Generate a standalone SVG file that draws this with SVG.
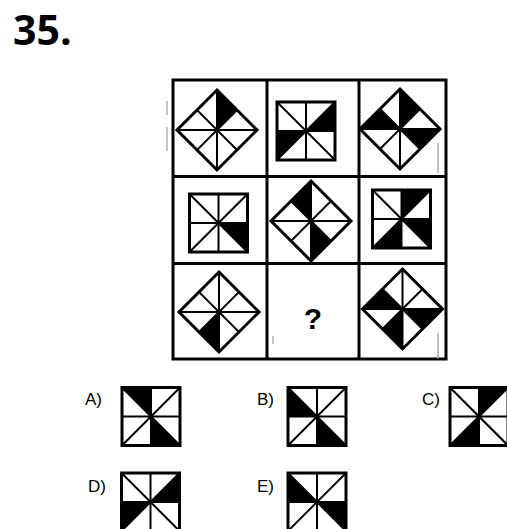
<svg xmlns="http://www.w3.org/2000/svg" xmlns:xlink="http://www.w3.org/1999/xlink" width="507" height="529" viewBox="0 0 507 529">
<defs>
<style>
.grid{fill:none;stroke:#000;stroke-width:3}
.o{fill:none;stroke:#000;stroke-width:3;stroke-linejoin:miter}
.i{stroke:#000;stroke-width:2;fill:none}
.f{fill:#000}
.lbl{font-family:"Liberation Sans",Arial,sans-serif;font-size:17px;fill:#000}
.scan{stroke:#9a9a9a;stroke-width:1.2}
</style>
<g id="sq">
 <line class="i" x1="0" y1="-29" x2="0" y2="29"/>
 <line class="i" x1="-29" y1="0" x2="29" y2="0"/>
 <line class="i" x1="-29" y1="-29" x2="29" y2="29"/>
 <line class="i" x1="29" y1="-29" x2="-29" y2="29"/>
 <rect class="o" x="-29" y="-29" width="58" height="58"/>
</g>
<g id="dm">
 <line class="i" x1="0" y1="-40" x2="0" y2="40"/>
 <line class="i" x1="-40" y1="0" x2="40" y2="0"/>
 <line class="i" x1="-20" y1="-20" x2="20" y2="20"/>
 <line class="i" x1="20" y1="-20" x2="-20" y2="20"/>
 <polygon class="o" points="0,-40 40,0 0,40 -40,0"/>
</g>
<path id="s0" d="M0 0L0 -29L29 -29Z"/>
<path id="s1" d="M0 0L29 -29L29 0Z"/>
<path id="s2" d="M0 0L29 0L29 29Z"/>
<path id="s3" d="M0 0L29 29L0 29Z"/>
<path id="s4" d="M0 0L0 29L-29 29Z"/>
<path id="s5" d="M0 0L-29 29L-29 0Z"/>
<path id="s6" d="M0 0L-29 0L-29 -29Z"/>
<path id="s7" d="M0 0L-29 -29L0 -29Z"/>
<path id="d0" d="M0 0L0 -40L20 -20Z"/>
<path id="d1" d="M0 0L20 -20L40 0Z"/>
<path id="d2" d="M0 0L40 0L20 20Z"/>
<path id="d3" d="M0 0L20 20L0 40Z"/>
<path id="d4" d="M0 0L0 40L-20 20Z"/>
<path id="d5" d="M0 0L-20 20L-40 0Z"/>
<path id="d6" d="M0 0L-40 0L-20 -20Z"/>
<path id="d7" d="M0 0L-20 -20L0 -40Z"/>
</defs>
<rect width="507" height="529" fill="#fff"/>
<text id="title" x="13" y="45" font-family="'Open Sans','Noto Sans',sans-serif" font-weight="bold" font-size="41">35.</text>

<g id="grid">
 <rect class="grid" x="173" y="80" width="273" height="279"/>
 <line class="grid" x1="267" y1="80" x2="267" y2="359"/>
 <line class="grid" x1="359" y1="80" x2="359" y2="359"/>
 <line class="grid" x1="173" y1="176.5" x2="446" y2="176.5"/>
 <line class="grid" x1="173" y1="263.5" x2="446" y2="263.5"/>
</g>

<g id="cell1" transform="translate(217,130)"><use xlink:href="#d0" class="f"/><use xlink:href="#dm"/></g>
<g id="cell2" transform="translate(306,131)"><use xlink:href="#s1" class="f"/><use xlink:href="#s5" class="f"/><use xlink:href="#sq"/></g>
<g id="cell3" transform="translate(400,129)"><use xlink:href="#d0" class="f"/><use xlink:href="#d2" class="f"/><use xlink:href="#d6" class="f"/><use xlink:href="#dm"/></g>
<g id="cell4" transform="translate(218.5,223)"><use xlink:href="#s2" class="f"/><use xlink:href="#sq"/></g>
<g id="cell5" transform="translate(311,221)"><use xlink:href="#d3" class="f"/><use xlink:href="#d7" class="f"/><use xlink:href="#dm"/></g>
<g id="cell6" transform="translate(401.5,219)"><use xlink:href="#s0" class="f"/><use xlink:href="#s2" class="f"/><use xlink:href="#s4" class="f"/><use xlink:href="#sq"/></g>
<g id="cell7" transform="translate(219,312)"><use xlink:href="#d4" class="f"/><use xlink:href="#dm"/></g>
<g id="cell8"><text x="313" y="329" text-anchor="middle" font-family="'Liberation Sans',Arial,sans-serif" font-weight="bold" font-size="30">?</text></g>
<g id="cell9" transform="translate(402.5,309)"><use xlink:href="#d2" class="f"/><use xlink:href="#d4" class="f"/><use xlink:href="#d6" class="f"/><use xlink:href="#dm"/></g>

<g id="optA"><text class="lbl" x="85" y="405">A)</text><g transform="translate(151,416.5)"><use xlink:href="#s7" class="f"/><use xlink:href="#s3" class="f"/><use xlink:href="#sq"/></g></g>
<g id="optB"><text class="lbl" x="257" y="405">B)</text><g transform="translate(317,416.5)"><use xlink:href="#s6" class="f"/><use xlink:href="#s3" class="f"/><use xlink:href="#sq"/></g></g>
<g id="optC"><text class="lbl" x="422" y="405">C)</text><g transform="translate(479,416.5)"><use xlink:href="#s0" class="f"/><use xlink:href="#s4" class="f"/><use xlink:href="#sq"/></g></g>
<g id="optD"><text class="lbl" x="88" y="492">D)</text><g transform="translate(150.5,502)"><use xlink:href="#s1" class="f"/><use xlink:href="#s5" class="f"/><use xlink:href="#sq"/></g></g>
<g id="optE"><text class="lbl" x="257" y="492">E)</text><g transform="translate(317,502)"><use xlink:href="#s6" class="f"/><use xlink:href="#s2" class="f"/><use xlink:href="#sq"/></g></g>

<g id="scanmarks">
 <line class="scan" x1="167" y1="101" x2="167" y2="115"/>
 <line class="scan" x1="167" y1="127" x2="167" y2="151"/>
 <line class="scan" x1="438" y1="143" x2="438" y2="173"/>
 <line class="scan" x1="438" y1="333" x2="438" y2="359"/>
 <line class="scan" x1="273" y1="336" x2="273" y2="344"/>
</g>
</svg>
